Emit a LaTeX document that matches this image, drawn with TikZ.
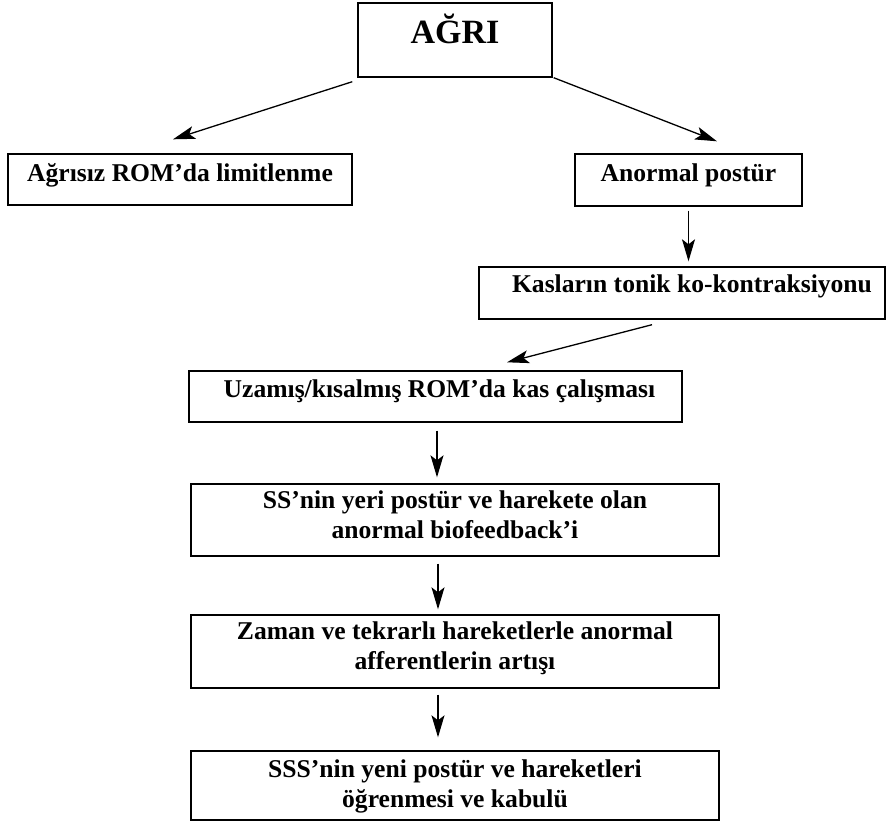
\documentclass[tikz,border=0pt]{standalone}
\usepackage{fontspec}
\setmainfont{Liberation Serif}
\usetikzlibrary{arrows.meta}

% box text: width, height, first baseline, text
\newcommand{\kutuyazi}[4]{\parbox[c][#2][t]{#1}{\centering\rule{0pt}{#3}#4}}

\tikzset{
    kutu/.style = {draw, line width = 0.7pt, inner sep = 0pt, font = \bfseries\fontsize{12.8}{15}\selectfont},
    ok/.style = {-{Stealth[length = 11pt, width = 6.5pt, inset = 2.5pt]}, line width = 0.65pt}
}

\begin{document}
\begin{tikzpicture}[x = 0.5pt, y = -0.5pt]
    \useasboundingbox (0, 0) rectangle (890, 826);

    \node[kutu, font = \bfseries\fontsize{17}{20}\selectfont] (agri) at (455, 40) {\kutuyazi{97pt}{37pt}{20pt}{AĞRI}};
    \node[kutu] (agrisiz) at (180, 179.5) {\kutuyazi{172pt}{25.5pt}{13.5pt}{Ağrısız ROM’da limitlenme}};
    \node[kutu] (anormal) at (688.5, 180) {\kutuyazi{113.5pt}{26pt}{13.5pt}{Anormal postür}};
    \node[kutu] (kaslarin) at (682, 293) {\kutuyazi{203pt}{26pt}{12.5pt}{\hspace*{10pt}Kasların tonik ko-kontraksiyonu}};
    \node[kutu] (uzamis) at (435.5, 396.5) {\kutuyazi{246.5pt}{25.5pt}{13pt}{\hspace*{4pt}Uzamış/kısalmış ROM’da kas çalışması}};
    \node[kutu] (ss) at (455, 520) {\kutuyazi{264pt}{36pt}{12pt}{SS’nin yeri postür ve harekete olan\\anormal biofeedback’i}};
    \node[kutu] (zaman) at (455, 651.5) {\kutuyazi{264pt}{36.5pt}{12pt}{Zaman ve tekrarlı hareketlerle anormal\\afferentlerin artışı}};
    \node[kutu] (sss) at (455, 785.5) {\kutuyazi{264pt}{34.5pt}{13pt}{SSS’nin yeni postür ve hareketleri\\öğrenmesi ve kabulü}};

    \draw[ok] ([shift = {(-5, 4)}]agri.south west) -- ([shift = {(-7, -14)}]agrisiz.north);
    \draw[ok] ([shift = {(1, 0)}]agri.south east) -- ([shift = {(28.5, -12)}]anormal.north);
    \draw[ok, shorten <= 2pt, shorten >= 2.5pt] (anormal.south) -- (anormal.south |- kaslarin.north);
    \draw[ok] ([shift = {(-30, 5)}]kaslarin.south) -- ([shift = {(71.5, -8)}]uzamis.north);
    \draw[ok] ([shift = {(1.5, 8)}]uzamis.south) -- ([shift = {(-18, -6)}]ss.north);
    \draw[ok] ([shift = {(-17, 7)}]ss.south) -- ([shift = {(-17, -5)}]zaman.north);
    \draw[ok] ([shift = {(-17, 6)}]zaman.south) -- ([shift = {(-17, -13)}]sss.north);
\end{tikzpicture}
\end{document}
